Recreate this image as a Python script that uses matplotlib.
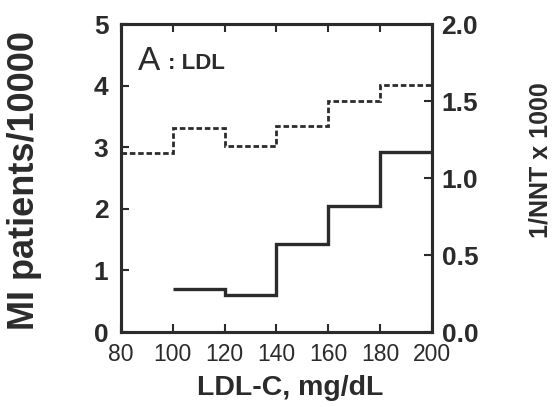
import matplotlib
matplotlib.use("Agg")
import matplotlib.pyplot as plt

# Data
ldl_edges = [80, 100, 120, 140, 160, 180, 200]
mi_patients = [2.9, 3.31, 3.02, 3.34, 3.75, 4.01]          # left axis, dotted
nnt_edges = [100, 120, 140, 160, 180, 200]
inv_nnt = [0.28, 0.24, 0.57, 0.82, 1.17]                   # right axis, solid

xticks = [80, 100, 120, 140, 160, 180, 200]
left_ticks = [0, 1, 2, 3, 4, 5]
right_ticks = [0.0, 0.5, 1.0, 1.5, 2.0]

col = "#2b2b2b"
plt.rcParams['font.family'] = ['Liberation Sans', 'DejaVu Sans']

fig = plt.figure(figsize=(5.55, 4.07), dpi=100)
ax = fig.add_axes([0.218, 0.184, 0.560, 0.757])
ax2 = ax.twinx()

ax.stairs(mi_patients, ldl_edges, color=col, lw=2.0, linestyle=(0, (2.0, 1.0)), baseline=None)
ax2.stairs(inv_nnt, nnt_edges, color=col, lw=2.4, baseline=None)

ax.set_xlim(80, 200)
ax.set_ylim(0, 5)
ax2.set_ylim(0, 2.0)

ax.set_xticks(xticks)
ax.set_xticklabels([str(v) for v in xticks], fontsize=16.5, color=col)
ax.set_yticks(left_ticks)
ax.set_yticklabels([str(v) for v in left_ticks], fontsize=19, fontweight='bold', color=col)
ax2.set_yticks(right_ticks)
ax2.set_yticklabels([f"{v:.1f}" for v in right_ticks], fontsize=19, fontweight='bold', color=col)

ax.tick_params(axis='x', direction='in', length=6, width=1.5, color=col, top=True, pad=8)
ax.tick_params(axis='y', direction='in', length=6, width=1.5, color=col, pad=9)
ax2.tick_params(axis='y', direction='in', length=6, width=1.5, color=col, pad=7)

for a in (ax, ax2):
    for s in a.spines.values():
        s.set_linewidth(2.2)
        s.set_color(col)

fig.text(290 / 555, 1 - 388 / 407, "LDL-C, mg/dL", fontsize=20.5, fontweight='bold',
         color=col, ha='center', va='center')
fig.text(25 / 555, 1 - 180 / 407, "MI patients/10000", fontsize=26, fontweight='bold',
         color=col, ha='center', va='center', rotation=90)
fig.text(541 / 555, 1 - 160 / 407, "1/NNT x 1000", fontsize=18, fontweight='bold',
         color=col, ha='center', va='center', rotation=90)

ax.text(0.055, 0.93, "A", transform=ax.transAxes, fontsize=24, color=col, va='top', ha='left')
ax.text(0.15, 0.905, ": LDL", transform=ax.transAxes, fontsize=16, fontweight='bold', color=col, va='top', ha='left')

fig.savefig("out.png", dpi=100)
